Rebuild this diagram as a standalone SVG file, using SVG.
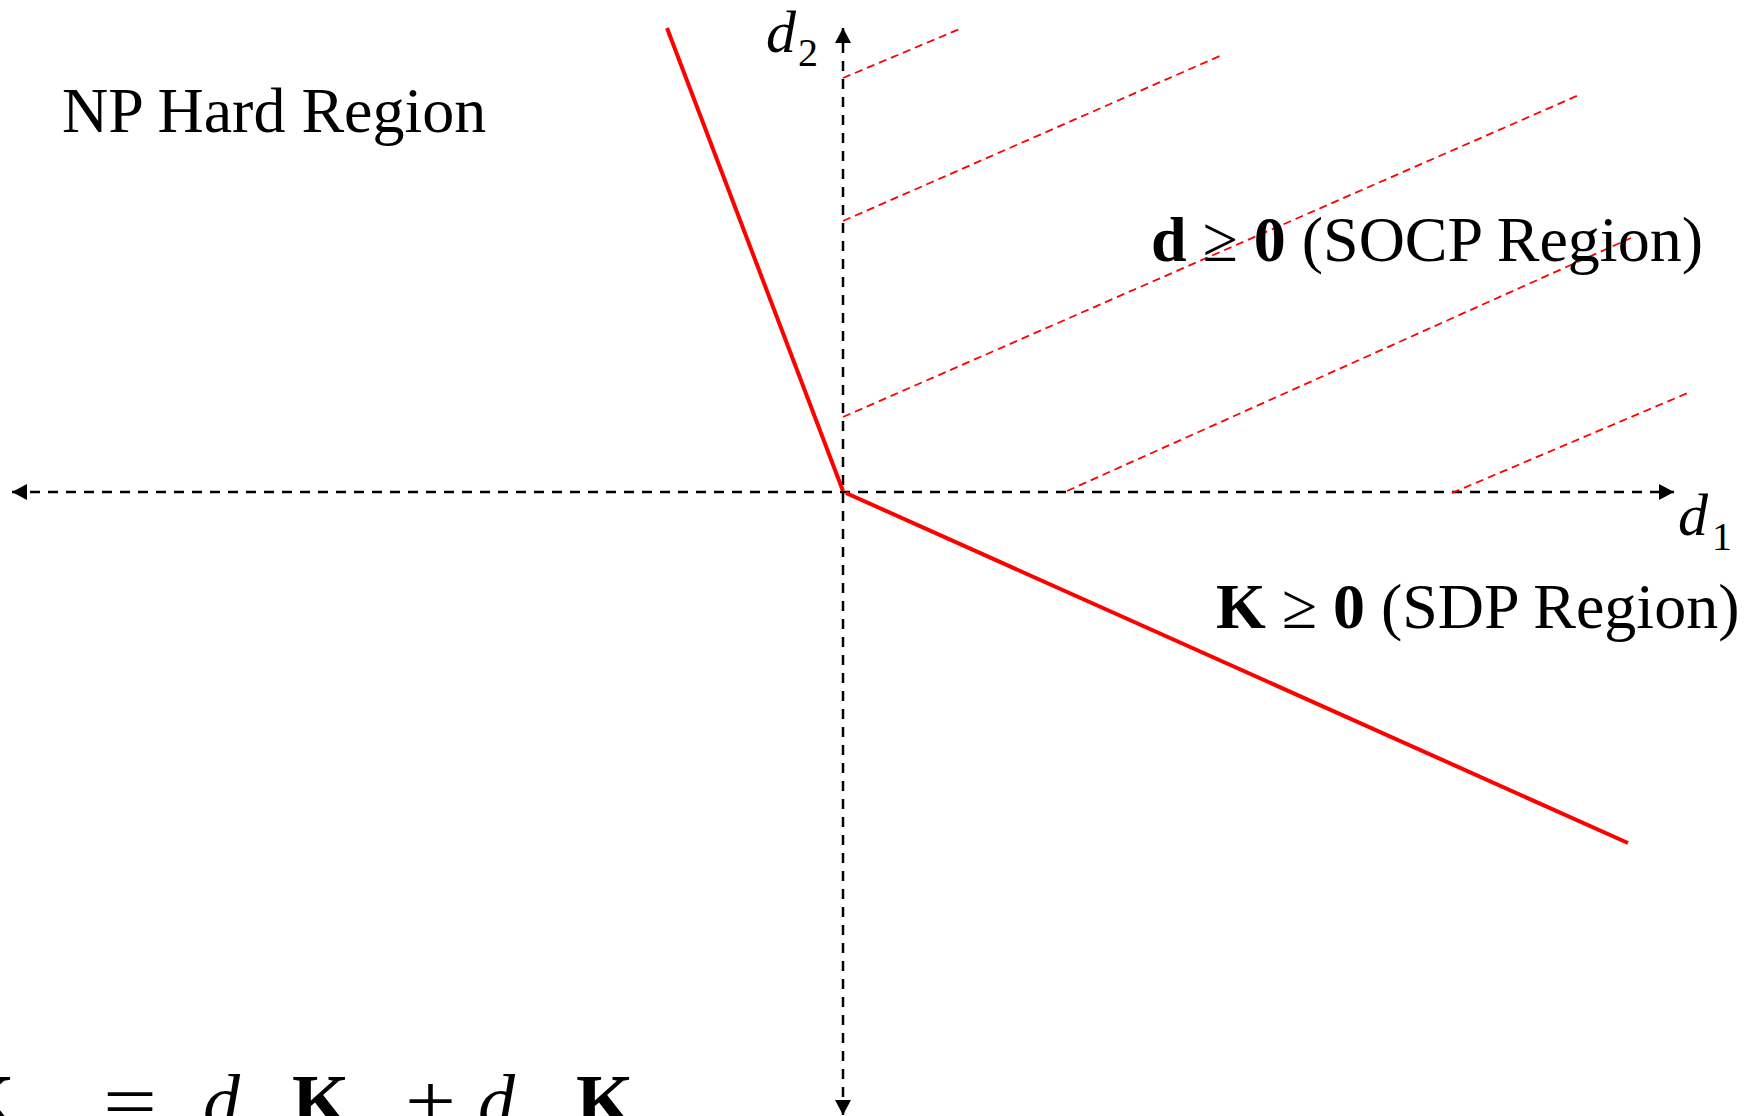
<svg xmlns="http://www.w3.org/2000/svg" width="1758" height="1116" viewBox="0 0 1758 1116">
<style>
.t{font-family:"Liberation Serif","Times New Roman",serif;fill:#000}
.b{font-weight:bold}
.i{font-style:italic}
.axis{stroke:#000;stroke-width:2.5;stroke-dasharray:10 8;fill:none}
.bound{stroke:#FF0000;stroke-width:4;fill:none}
.hatch{stroke:#FF0000;stroke-width:1.8;stroke-dasharray:8 5;fill:none}
</style>
<defs>
<marker id="arr" markerUnits="userSpaceOnUse" markerWidth="16" markerHeight="17" refX="15" refY="8" orient="auto-start-reverse">
<path d="M0,0 L15,8 L0,16 Z" fill="#000"/>
</marker>
</defs>
<rect width="1758" height="1116" fill="#fff"/>
<g id="connectors">
<line class="axis" x1="12" y1="492" x2="1674" y2="492" marker-start="url(#arr)" marker-end="url(#arr)"/>
<line class="axis" x1="843" y1="1115" x2="843" y2="28" marker-start="url(#arr)" marker-end="url(#arr)"/>
<line class="hatch" x1="843" y1="78" x2="962" y2="28"/>
<line class="hatch" x1="843" y1="221" x2="1222" y2="55"/>
<line class="hatch" x1="843" y1="417" x2="1579" y2="95"/>
<line class="hatch" x1="1067" y1="491" x2="1631" y2="238"/>
<line class="hatch" x1="1452" y1="493" x2="1690" y2="392"/>
<line class="bound" x1="843" y1="491" x2="667" y2="28"/>
<line class="bound" x1="846" y1="493" x2="1628" y2="843"/>
</g>
<g id="np-hard">
<text class="t" x="62" y="132" font-size="64">NP Hard Region</text>
</g>
<g id="socp">
<text class="t" x="1151" y="261" font-size="64"><tspan class="b">d</tspan> ≥ <tspan class="b">0</tspan> (SOCP Region)</text>
</g>
<g id="sdp">
<text class="t" x="1216" y="628" font-size="64"><tspan class="b">K</tspan> ≥ <tspan class="b">0</tspan> (SDP Region)</text>
</g>
<g id="d1-label">
<text class="t i" x="1678" y="535" font-size="60">d</text>
<text class="t" x="1712" y="550" font-size="40">1</text>
</g>
<g id="d2-label">
<text class="t i" x="766" y="52" font-size="60">d</text>
<text class="t" x="798" y="66" font-size="40">2</text>
</g>
<g id="formula">
<text class="t b" x="-43" y="1126" font-size="74">K</text>
<text class="t" x="103" y="1126" font-size="74" textLength="54" lengthAdjust="spacingAndGlyphs">=</text>
<text class="t i" x="203" y="1126" font-size="74">d</text>
<text class="t b" x="292" y="1126" font-size="74">K</text>
<text class="t" x="405" y="1126" font-size="74" textLength="51" lengthAdjust="spacingAndGlyphs">+</text>
<text class="t i" x="478" y="1126" font-size="74">d</text>
<text class="t b" x="576" y="1126" font-size="74">K</text>
</g>
</svg>
